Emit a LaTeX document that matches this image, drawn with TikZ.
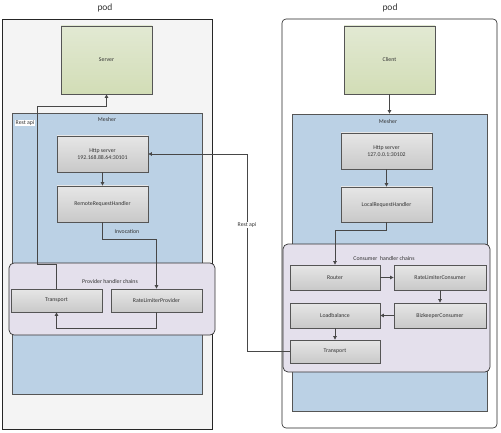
\documentclass[tikz,border=0pt]{standalone}
\usepackage{fontspec}
\setmainfont{Carlito}
\usetikzlibrary{arrows.meta}
\definecolor{podfill}{HTML}{F4F4F4}
\definecolor{grntop}{HTML}{E2E9D3}
\definecolor{grnbot}{HTML}{D2DDB6}
\definecolor{bluefill}{HTML}{BBD1E5}
\definecolor{lavfill}{HTML}{E4E0EC}
\definecolor{gtop}{HTML}{E6E6E6}
\definecolor{gbot}{HTML}{C9C9C9}
\definecolor{edge}{HTML}{555555}
\definecolor{wire}{HTML}{474747}
\tikzset{
  txt/.style={font=\fontsize{5.8}{7.2}\selectfont, text=black!80, align=center},
  podbox/.style={draw=black!85, line width=0.6pt, inner sep=0pt},
  greenbox/.style={draw=edge, line width=0.8pt, top color=grntop, bottom color=grnbot, inner sep=0pt, txt},
  meshbox/.style={draw=edge, line width=0.8pt, fill=bluefill, inner sep=0pt},
  chainbox/.style={draw=black!80, line width=0.7pt, fill=lavfill, rounded corners=5pt, inner sep=0pt},
  graybox/.style={draw=edge, line width=0.8pt, top color=gtop, bottom color=gbot, inner sep=0pt, txt},
  arr/.style={draw=wire, line width=0.7pt, -{Triangle[length=3.5pt,width=3.5pt]}},
  lbl/.style={txt, inner sep=0.5pt},
  title/.style={font=\fontsize{9.5}{11}\selectfont, text=black!80},
}
\begin{document}
\begin{tikzpicture}[x=1pt,y=-1pt]
\useasboundingbox (0,0) rectangle (501,433);
% pods
\node[title] (podLt) at (105,8) {pod};
\node[title] (podRt) at (390,8) {pod};
\node[podbox, fill=podfill, minimum width=210pt, minimum height=410pt] (podL) at (107,224) {};
\node[podbox, fill=white, rounded corners=4pt, minimum width=215pt, minimum height=409pt] (podR) at (389.5,223.5) {};
% server/client
\node[greenbox, minimum width=91pt, minimum height=68pt] (server) at (106.5,60) {Server};
\node[greenbox, minimum width=91pt, minimum height=68pt] (client) at (389.5,60) {Client};
% meshers
\node[meshbox, minimum width=190pt, minimum height=281pt] (mesherL) at (107,253.5) {};
\node[meshbox, minimum width=195pt, minimum height=297pt] (mesherR) at (389.5,262.5) {};
\node[lbl] (meshLt) at (107,120) {Mesher};
\node[lbl] (meshRt) at (388,122) {Mesher};
\node[lbl, fill=white] (restL) at (25,123) {Rest api};
% left handlers
\node[graybox, minimum width=91pt, minimum height=36pt] (httpL) at (102.5,154) {Http server\\192.168.88.64:30101};
\node[graybox, minimum width=91pt, minimum height=36pt] (remote) at (102.5,204) {RemoteRequestHandler};
% right handlers
\node[graybox, minimum width=91pt, minimum height=36pt] (httpR) at (386.5,151) {Http server\\127.0.0.1:30102};
\node[graybox, minimum width=91pt, minimum height=35pt] (local) at (386.5,204.5) {LocalRequestHandler};
% provider chains
\node[chainbox, minimum width=206pt, minimum height=72pt] (provC) at (112,299) {};
\node[lbl] (provCt) at (110,282) {Provider handler chains};
\node[graybox, minimum width=91pt, minimum height=23pt] (transL) at (56.5,300.5) {Transport};
\node[graybox, minimum width=91pt, minimum height=23pt] (rlp) at (156.5,300.5) {RateLimiterProvider};
% consumer chains
\node[chainbox, minimum width=207pt, minimum height=128pt] (consC) at (386.5,308) {};
\node[lbl] (consCt) at (384,259) {Consumer\ \ handler chains};
\node[graybox, minimum width=90pt, minimum height=25pt] (router) at (335,277.5) {Router};
\node[graybox, minimum width=92pt, minimum height=25pt] (rlc) at (440,277.5) {RateLimiterConsumer};
\node[graybox, minimum width=92pt, minimum height=25pt] (bizk) at (440,315.5) {BizkeeperConsumer};
\node[graybox, minimum width=90pt, minimum height=25pt] (lb) at (335,315.5) {Loadbalance};
\node[graybox, minimum width=90pt, minimum height=23pt] (transR) at (335,351.5) {Transport};
% connectors left
\draw[arr] (httpL) -- (remote);
\draw[arr] (remote.south) -- ++(0,17) -| (rlp.north);
\node[lbl] (invoc) at (127,232) {Invocation};
\draw[arr] (rlp.south) -- ++(0,16) -| (transL.south);
\coordinate (a1) at (37,264);
\coordinate (a2) at (37,106);
\draw[arr] (transL.north) |- (a1) -- (a2) -| (server.south);
% connectors right
\draw[arr] (client) -- (mesherR.north -| client.south);
\draw[arr] (httpR) -- (local);
\draw[arr] (local.south) -- ++(0,8) -| (router.north);
\draw[arr] (router) -- (rlc);
\draw[arr] (rlc) -- (bizk);
\draw[arr] (bizk) -- (lb);
\draw[arr] (lb) -- (transR);
\coordinate (r1) at (247,154);
\draw[arr] (transR.west) -| (r1) -- (httpL.east);
\node[lbl, fill=white] (restM) at (247,225) {Rest api};
\end{tikzpicture}
\end{document}
